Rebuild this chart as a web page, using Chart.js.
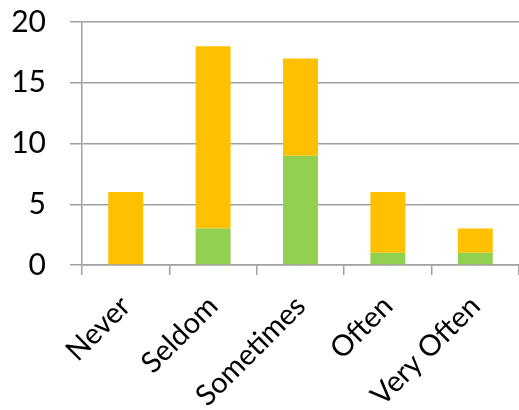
<!DOCTYPE html>
<html>
<head>
<meta charset="utf-8">
<script src="https://cdn.jsdelivr.net/npm/chart.js@4"></script>
<style>
  body { margin: 0; background: #fff; }
  #wrap { width: 519px; height: 410px; }
</style>
</head>
<body>
<div id="wrap"><canvas id="freqChart"></canvas></div>
<script>
const categories = ['Never', 'Seldom', 'Sometimes', 'Often', 'Very Often'];
const greenValues = [0, 3, 9, 1, 1];
const orangeValues = [6, 15, 8, 5, 2];
const yTicks = [0, 5, 10, 15, 20];

const axisColor = '#a0a0a0';

const ctx = document.getElementById('freqChart').getContext('2d');
new Chart(ctx, {
    type: 'bar',
    data: {
        labels: categories,
        datasets: [{
            data: greenValues,
            backgroundColor: '#92d050',
            barPercentage: 0.4,
            categoryPercentage: 1
        }, {
            data: orangeValues,
            backgroundColor: '#ffc000',
            barPercentage: 0.4,
            categoryPercentage: 1
        }]
    },
    options: {
        responsive: true,
        maintainAspectRatio: false,
        animation: false,
        layout: { padding: { top: 22, right: 0, left: 0, bottom: 0 } },
        plugins: {
            legend: { display: false },
            tooltip: { enabled: false }
        },
        scales: {
            x: {
                stacked: true,
                afterFit: function(scale) {
                    scale.height = 145;
                    scale.paddingLeft = 0;
                    scale.paddingRight = 0;
                },
                grid: {
                    drawOnChartArea: false,
                    drawTicks: true,
                    tickLength: 10,
                    color: axisColor,
                    lineWidth: 1.5
                },
                border: { color: axisColor, width: 1.5 },
                ticks: {
                    color: '#000',
                    font: { family: 'Lato', size: 29 },
                    minRotation: 45,
                    maxRotation: 45,
                    padding: 14
                }
            },
            y: {
                stacked: true,
                min: 0,
                max: 20,
                afterFit: function(scale) {
                    scale.width = 82;
                    scale.paddingTop = 0;
                    scale.paddingBottom = 0;
                },
                afterBuildTicks: function(scale) {
                    scale.ticks = yTicks.map(v => ({ value: v }));
                },
                grid: {
                    color: axisColor,
                    lineWidth: 1.5,
                    tickLength: 12
                },
                border: { color: axisColor, width: 1.5 },
                ticks: {
                    color: '#000',
                    font: { family: 'Lato', size: 30 },
                    padding: 24
                }
            }
        }
    }
});
</script>
</body>
</html>
